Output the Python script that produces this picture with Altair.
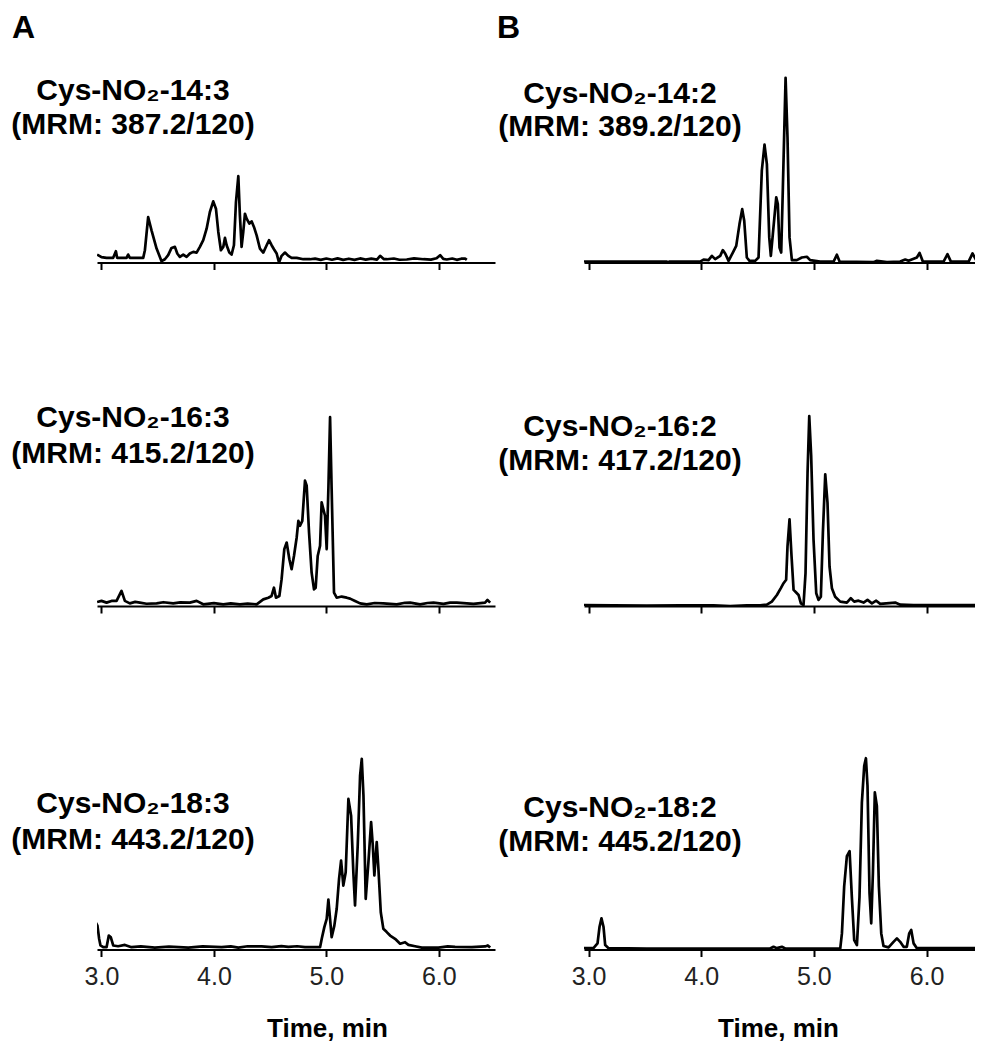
import altair as alt
import pandas as pd

# ---------------- data (time in min, relative intensity %) ----------------
a1 = [(2.961, 9.2), (3.000, 6.2), (3.045, 5.4), (3.104, 5.4), (3.128, 13.1), (3.139, 5.4),
      (3.223, 5.4), (3.237, 9.2), (3.252, 5.4), (3.371, 5.4), (3.386, 14.2), (3.415, 52.7),
      (3.445, 37.3), (3.490, 16.2), (3.534, 1.5), (3.564, 3.8), (3.593, 8.5), (3.623, 16.9),
      (3.653, 18.1), (3.674, 10.4), (3.697, 6.5), (3.727, 9.2), (3.757, 6.5), (3.786, 10.4),
      (3.816, 12.3), (3.846, 11.5), (3.875, 18.1), (3.905, 25.8), (3.935, 39.2), (3.964, 58.5),
      (3.994, 70.8), (4.018, 62.3), (4.039, 35.4), (4.062, 14.2), (4.083, 18.1), (4.098, 28.5),
      (4.113, 20.0), (4.137, 11.5), (4.157, 9.2), (4.178, 20.0), (4.196, 70.0), (4.217, 100.0),
      (4.231, 54.6), (4.246, 18.1), (4.261, 35.4), (4.276, 56.5), (4.291, 50.8), (4.315, 45.0),
      (4.335, 47.7), (4.356, 41.2), (4.380, 31.5), (4.409, 16.2), (4.439, 11.5), (4.469, 20.0),
      (4.490, 25.8), (4.513, 20.0), (4.534, 15.4), (4.558, 10.4), (4.579, 0.0), (4.602, 7.7),
      (4.632, 11.5), (4.662, 7.7), (4.691, 5.4), (4.736, 5.4), (4.795, 3.8), (4.855, 3.8),
      (4.90, 4.5), (4.95, 3.0), (5.00, 4.6), (5.05, 3.2), (5.10, 4.8), (5.15, 3.1),
      (5.20, 4.4), (5.25, 3.0), (5.30, 4.7), (5.35, 3.3), (5.40, 4.5), (5.45, 3.4),
      (5.478, 7.7), (5.51, 4.0), (5.537, 3.8), (5.60, 4.6), (5.65, 3.2), (5.715, 3.5),
      (5.78, 4.8), (5.864, 3.8), (5.93, 3.3), (5.98, 4.9), (6.012, 8.5), (6.04, 4.2),
      (6.071, 3.5), (6.12, 4.6), (6.160, 3.1), (6.20, 4.4), (6.234, 4.6), (6.249, 3.1)]

b1 = [(2.956, 0.5), (3.000, 0.5), (3.695, 0.5), (3.701, 0.0), (3.720, 0.5), (3.991, 0.5),
      (4.021, 1.6), (4.065, 1.3), (4.095, 3.6), (4.124, 1.8), (4.169, 3.6), (4.192, 6.7),
      (4.213, 4.9), (4.243, 0.9), (4.281, 5.4), (4.311, 9.0), (4.340, 20.8), (4.364, 28.9),
      (4.382, 22.6), (4.405, 2.7), (4.429, 0.9), (4.479, 0.9), (4.509, 2.7), (4.538, 49.7),
      (4.562, 63.8), (4.583, 53.3), (4.604, 13.6), (4.618, 3.6), (4.636, 15.4), (4.666, 35.3),
      (4.680, 31.6), (4.695, 8.1), (4.710, 5.4), (4.725, 40.7), (4.749, 100.0), (4.766, 67.8),
      (4.784, 13.6), (4.805, 1.3), (4.849, 1.3), (4.893, 2.7), (4.938, 3.1), (4.967, 1.3),
      (5.056, 0.5), (5.175, 0.5), (5.204, 4.2), (5.228, 0.5), (5.530, 0.2), (5.559, 0.9),
      (5.648, 0.2), (5.766, 0.5), (5.811, 1.6), (5.840, 0.9), (5.914, 2.7), (5.938, 5.2),
      (5.967, 0.5), (6.151, 0.5), (6.186, 4.5), (6.216, 0.5), (6.373, 0.5), (6.408, 4.9),
      (6.447, 0.5), (6.491, 0.0)]

a2 = [(2.961, 2.1), (3.000, 2.7), (3.045, 1.8), (3.089, 2.7), (3.134, 2.7), (3.178, 8.0),
      (3.208, 2.7), (3.252, 1.4), (3.30, 2.2), (3.341, 1.8), (3.40, 1.2), (3.490, 1.4),
      (3.55, 2.0), (3.638, 1.4), (3.70, 1.9), (3.786, 1.8), (3.846, 2.7), (3.905, 0.9),
      (4.00, 1.5), (4.083, 0.9), (4.15, 1.4), (4.231, 0.9), (4.30, 1.3), (4.380, 0.9),
      (4.439, 3.5), (4.484, 4.4), (4.513, 5.3), (4.534, 9.7), (4.552, 4.4), (4.582, 5.3),
      (4.602, 14.2), (4.626, 30.1), (4.647, 33.6), (4.671, 24.8), (4.691, 19.5), (4.712, 26.5),
      (4.736, 36.3), (4.751, 45.1), (4.766, 42.5), (4.786, 45.1), (4.810, 66.4), (4.825, 63.7),
      (4.846, 38.9), (4.869, 17.7), (4.890, 8.8), (4.905, 9.7), (4.923, 26.5), (4.944, 31.9),
      (4.958, 54.9), (4.973, 51.3), (4.988, 47.8), (5.003, 30.1), (5.018, 61.9), (5.033, 100.0),
      (5.047, 61.9), (5.068, 7.1), (5.092, 4.4), (5.136, 5.0), (5.181, 4.4), (5.211, 3.9),
      (5.255, 2.7), (5.300, 1.4), (5.359, 0.9), (5.43, 1.6), (5.507, 1.4), (5.626, 0.9),
      (5.70, 1.7), (5.745, 1.8), (5.834, 0.9), (5.90, 1.6), (5.953, 1.8), (6.042, 1.1),
      (6.10, 1.8), (6.160, 1.8), (6.309, 1.1), (6.412, 1.8), (6.433, 3.2), (6.457, 1.8)]

b2 = [(2.956, 0.5), (3.222, 0.4), (3.518, 0.2), (3.814, 0.4), (4.109, 0.4), (4.257, 0.0),
      (4.405, 0.4), (4.524, 0.4), (4.583, 0.7), (4.627, 2.3), (4.672, 5.8), (4.707, 9.4),
      (4.731, 12.0), (4.754, 13.8), (4.766, 31.4), (4.784, 45.6), (4.802, 26.1), (4.820, 8.5),
      (4.843, 7.1), (4.864, 5.8), (4.885, 1.4), (4.908, 0.5), (4.926, 17.3), (4.944, 70.3),
      (4.959, 100.0), (4.976, 79.2), (4.997, 35.0), (5.021, 6.7), (5.041, 3.2), (5.062, 4.9),
      (5.080, 38.5), (5.101, 69.4), (5.121, 54.4), (5.139, 20.8), (5.160, 9.4), (5.189, 4.9),
      (5.234, 2.3), (5.293, 1.8), (5.328, 4.1), (5.358, 2.3), (5.396, 2.8), (5.441, 1.8),
      (5.476, 3.2), (5.515, 1.4), (5.553, 2.8), (5.589, 1.1), (5.722, 1.8), (5.766, 0.7),
      (5.885, 0.5), (6.180, 0.5), (6.491, 0.5)]

a3 = [(2.947, 14.3), (2.964, 12.5), (2.979, 5.6), (2.991, 2.1), (3.015, 1.2), (3.045, 1.2),
      (3.065, 7.3), (3.083, 6.4), (3.104, 2.1), (3.148, 1.7), (3.208, 2.4), (3.267, 1.2),
      (3.35, 1.6), (3.475, 1.0), (3.60, 1.5), (3.772, 1.0), (3.90, 1.6), (4.068, 1.2),
      (4.15, 1.6), (4.217, 1.0), (4.30, 1.7), (4.424, 1.6), (4.513, 1.2), (4.60, 1.8),
      (4.662, 1.4), (4.740, 1.7), (4.810, 1.2), (4.944, 1.2), (4.959, 5.6), (4.982, 11.7),
      (5.003, 16.0), (5.018, 26.1), (5.033, 16.0), (5.047, 6.4), (5.071, 12.5), (5.092, 21.3),
      (5.113, 36.9), (5.131, 46.5), (5.151, 33.4), (5.172, 40.4), (5.196, 78.7), (5.220, 70.0),
      (5.240, 40.4), (5.255, 23.0), (5.279, 54.4), (5.300, 90.9), (5.315, 99.7), (5.330, 80.5),
      (5.350, 26.5), (5.374, 45.6), (5.398, 66.6), (5.413, 54.4), (5.427, 38.7), (5.448, 56.1),
      (5.463, 42.2), (5.484, 19.5), (5.507, 10.8), (5.537, 9.1), (5.567, 7.3), (5.611, 5.6),
      (5.656, 3.0), (5.700, 3.8), (5.730, 2.4), (5.789, 1.7), (5.849, 1.0), (5.997, 1.0),
      (6.08, 1.6), (6.145, 1.4), (6.294, 1.2), (6.412, 1.6), (6.436, 2.1), (6.457, 1.0)]

b3 = [(2.956, 0.7), (3.044, 0.7), (3.080, 3.2), (3.098, 11.9), (3.115, 16.3), (3.133, 11.9),
      (3.148, 2.3), (3.178, 0.7), (3.518, 0.5), (3.814, 0.5), (4.109, 0.5), (4.405, 0.5),
      (4.612, 0.5), (4.642, 1.4), (4.672, 0.7), (4.716, 1.4), (4.746, 0.5), (4.997, 0.5),
      (5.234, 0.5), (5.249, 8.4), (5.269, 33.0), (5.293, 48.8), (5.317, 51.4), (5.337, 27.5),
      (5.358, 4.9), (5.382, 2.3), (5.405, 27.5), (5.426, 76.8), (5.447, 96.1), (5.462, 100.0),
      (5.476, 85.6), (5.494, 29.5), (5.509, 13.7), (5.524, 40.0), (5.541, 82.1), (5.559, 75.1),
      (5.577, 33.0), (5.598, 8.4), (5.618, 1.8), (5.663, 1.1), (5.707, 4.0), (5.737, 5.8),
      (5.766, 4.0), (5.796, 1.4), (5.825, 1.4), (5.846, 8.4), (5.864, 10.2), (5.885, 3.2),
      (5.914, 0.7), (6.180, 0.7), (6.491, 0.7)]

names = ["Cys-NO₂-14:3", "Cys-NO₂-14:2", "Cys-NO₂-16:3",
         "Cys-NO₂-16:2", "Cys-NO₂-18:3", "Cys-NO₂-18:2"]
mrm = ["(MRM: 387.2/120)", "(MRM: 389.2/120)", "(MRM: 415.2/120)",
       "(MRM: 417.2/120)", "(MRM: 443.2/120)", "(MRM: 445.2/120)"]
letters = ["A", "B"]
x_ticks = [3.0, 4.0, 5.0, 6.0]
x_title = "Time, min"

series = [a1, b1, a2, b2, a3, b3]

# ---------------- layout / style ----------------
FONT = "Liberation Sans"
H = 250
col_w = [398, 391]
x_dom = [[2.96, 6.5], [2.96, 6.43]]
y_max = [289.7, 135.4, 132.4, 131.7, 130.7, 130.7]
label_pos = [(36, 87.3, 121.3), (36, 90.7, 123.5),
             (36, 71.2, 107.2), (36, 79.5, 113.5),
             (36, 113.7, 149.3), (36, 117.0, 151.0)]
letter_x = [-85, -87]
title_x = [230, 194]


def text_layer(s, x, y, size, align="center", weight="bold"):
    return alt.Chart(alt.Data(values=[{"s": s}])).mark_text(
        font=FONT, fontSize=size, fontWeight=weight, align=align,
        baseline="alphabetic", color="black"
    ).encode(x=alt.value(x), y=alt.value(y), text="s:N")


panels = []
for i, pts in enumerate(series):
    row, col = divmod(i, 2)
    df = pd.DataFrame(pts, columns=["t", "I"])
    bottom = row == 2
    axis_kw = dict(values=x_ticks, format=".1f", grid=False, labels=bottom,
                   domainColor="black", domainWidth=2, tickColor="black",
                   tickWidth=2, tickSize=7, labelFont=FONT, labelFontSize=25,
                   labelColor="#222", labelPadding=8, labelFlush=False)
    if bottom:
        axis_kw.update(title=x_title, titleFont=FONT, titleFontSize=26,
                       titleFontWeight="bold", titleColor="black",
                       titleX=title_x[col], titleY=87, titleAlign="center",
                       titleBaseline="alphabetic")
    else:
        axis_kw.update(title="")
    line = alt.Chart(df).mark_line(color="black", strokeWidth=2.7, clip=True,
                                   strokeJoin="round").encode(
        x=alt.X("t:Q", scale=alt.Scale(domain=x_dom[col], nice=False, zero=False),
                axis=alt.Axis(**axis_kw)),
        y=alt.Y("I:Q", scale=alt.Scale(domain=[0, y_max[i]], nice=False), axis=None),
    )
    lx, ly1, ly2 = label_pos[i]
    layers = [line, text_layer(names[i], lx, ly1, 30), text_layer(mrm[i], lx, ly2, 30)]
    if row == 0:
        layers.append(text_layer(letters[col], letter_x[col], 25, 32, align="left"))
    panels.append(alt.layer(*layers).properties(width=col_w[col], height=H))

chart = alt.concat(
    *panels, columns=2, spacing={"row": 93.5, "column": 89}, bounds="flush"
).resolve_scale(x="independent", y="independent").properties(
    padding={"left": 3, "top": 3.5, "right": 0, "bottom": 0},
    background="white",
).configure_view(strokeWidth=0)

chart.save("out.html", embed_options={"renderer": "svg", "actions": False})
